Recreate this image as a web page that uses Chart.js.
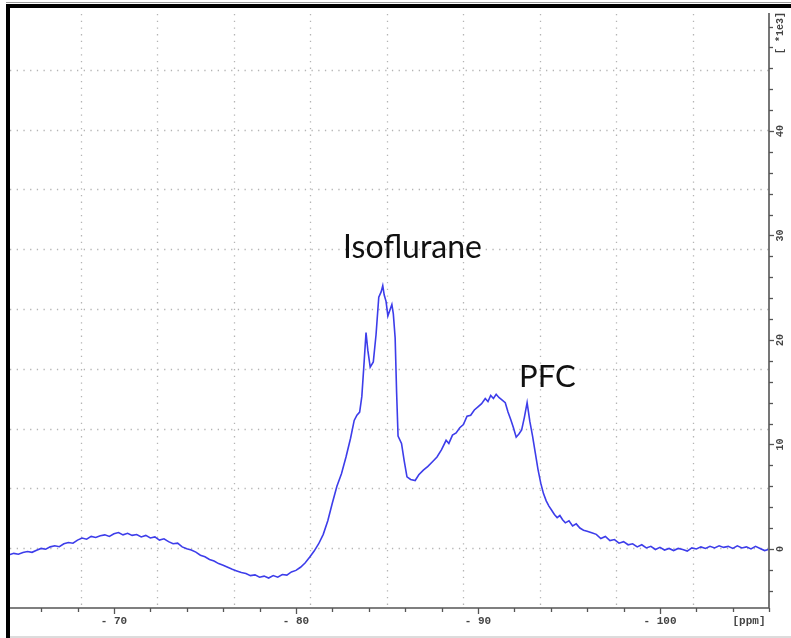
<!DOCTYPE html>
<html>
<head>
<meta charset="utf-8">
<script src="https://cdn.jsdelivr.net/npm/chart.js@4.4.1/dist/chart.umd.min.js"></script>
<style>
  html, body { margin: 0; padding: 0; background: #fff; }
  #wrap { width: 791px; height: 638px; position: relative; }
</style>
</head>
<body>
<div id="wrap"><canvas id="nmr"></canvas></div>
<script>
const shifts = [
  -64.25, -64.5, -64.75, -65.0, -65.25, -65.5, -65.75, -66.0, -66.25, -66.5,
  -66.75, -67.0, -67.25, -67.5, -67.75, -68.0, -68.25, -68.5, -68.75, -69.0,
  -69.25, -69.5, -69.75, -70.0, -70.25, -70.5, -70.75, -71.0, -71.25, -71.5,
  -71.75, -72.0, -72.25, -72.5, -72.75, -73.0, -73.25, -73.5, -73.75, -74.0,
  -74.25, -74.5, -74.75, -75.0, -75.25, -75.5, -75.75, -76.0, -76.25, -76.5,
  -76.75, -77.0, -77.25, -77.5, -77.75, -78.0, -78.25, -78.5, -78.75, -79.0,
  -79.25, -79.5, -79.75, -80.0, -80.25, -80.5, -80.75, -81.0, -81.25, -81.5,
  -81.75, -82.0, -82.25, -82.5, -82.75, -83.0, -83.2, -83.35, -83.5, -83.62,
  -83.75, -83.85, -83.95, -84.08, -84.25, -84.4, -84.55, -84.68, -84.77, -84.85,
  -84.95, -85.05, -85.15, -85.27, -85.35, -85.45, -85.53, -85.61, -85.8, -85.95,
  -86.1, -86.3, -86.55, -86.75, -87.0, -87.25, -87.5, -87.75, -88.0, -88.25,
  -88.4, -88.6, -88.8, -89.0, -89.2, -89.4, -89.6, -89.8, -90.0, -90.2,
  -90.4, -90.55, -90.7, -90.85, -91.0, -91.15, -91.3, -91.5, -91.65, -91.8,
  -91.95, -92.1, -92.25, -92.4, -92.55, -92.7, -92.85, -93.0, -93.15, -93.3,
  -93.45, -93.6, -93.75, -93.9, -94.05, -94.2, -94.35, -94.5, -94.65, -94.8,
  -95.0, -95.2, -95.4, -95.6, -95.8, -96.0, -96.25, -96.5, -96.75, -97.0,
  -97.25, -97.5, -97.75, -98.0, -98.25, -98.5, -98.75, -99.0, -99.25, -99.5,
  -99.75, -100.0, -100.25, -100.5, -100.75, -101.0, -101.25, -101.5, -101.75, -102.0,
  -102.25, -102.5, -102.75, -103.0, -103.25, -103.5, -103.75, -104.0, -104.25, -104.5,
  -104.75, -105.0, -105.25, -105.5, -105.75, -105.95
];
const intensity = [
  -0.55, -0.42, -0.5, -0.33, -0.25, -0.32, -0.12, 0.05, -0.02, 0.2,
  0.3, 0.22, 0.5, 0.62, 0.55, 0.85, 1.05, 0.93, 1.2, 1.1,
  1.27, 1.35, 1.2, 1.45, 1.57, 1.35, 1.5, 1.3, 1.38, 1.15,
  1.3, 1.05, 1.15, 0.85, 0.97, 0.7, 0.5, 0.56, 0.2, 0.02,
  -0.1, -0.3, -0.6, -0.75, -1.0, -1.15, -1.4, -1.55, -1.75, -1.95,
  -2.1, -2.25, -2.35, -2.55, -2.48, -2.7, -2.6, -2.78, -2.55, -2.7,
  -2.45, -2.5, -2.2, -2.05, -1.75, -1.35, -0.8, -0.2, 0.5, 1.4,
  2.7, 4.4, 6.0, 7.2, 8.8, 10.6, 12.3, 12.8, 13.1, 14.6,
  18.0, 20.7, 19.0, 17.4, 17.9, 20.5, 24.1, 24.6, 25.2, 24.3,
  23.7, 22.3, 22.8, 23.4, 22.5, 20.2, 15.0, 10.8, 10.1, 8.4,
  6.9, 6.65, 6.55, 7.1, 7.55, 7.9, 8.35, 8.8, 9.5, 10.4,
  10.1, 10.9, 11.1, 11.6, 11.9, 12.7, 12.8, 13.3, 13.6, 13.9,
  14.4, 14.1, 14.7, 14.4, 14.8, 14.5, 14.3, 14.0, 13.1, 12.4,
  11.6, 10.7, 11.0, 11.4, 12.6, 14.0, 12.2, 10.8, 9.2, 7.6,
  6.3, 5.3, 4.6, 4.1, 3.7, 3.3, 3.0, 3.2, 2.8, 2.5,
  2.7, 2.2, 2.4, 2.0, 1.8, 1.7, 1.55, 1.4, 1.0, 1.2,
  0.8, 0.9, 0.55, 0.7, 0.4, 0.5, 0.2, 0.4, 0.1, 0.25,
  -0.05, 0.15, -0.1, 0.05, -0.15, 0.05, -0.05, -0.2, 0.1, 0.0,
  0.2, 0.05, 0.25, 0.1, 0.3, 0.15, 0.25, 0.05, 0.3, 0.1,
  0.2, 0.0, 0.25, 0.05, -0.15, -0.05
];

// axis ticks (minor every 2, labelled every 10)
const xTicks = [-66, -68, -70, -72, -74, -76, -78, -80, -82, -84, -86, -88, -90, -92, -94, -96, -98, -100, -102, -104, -106];
const xLabels = [-70, -80, -90, -100];
const yTicks = [-4, -2, 0, 2, 4, 6, 8, 10, 12, 14, 16, 18, 20, 22, 24, 26, 28, 30, 32, 34, 36, 38, 40, 42, 44, 46, 48, 50];
const yLabels = [0, 10, 20, 30, 40];
const peakNames = ['Isoflurane', 'PFC'];

const points = shifts.map((s, i) => ({ x: s, y: intensity[i] }));

// draws the xwin-nmr style box, dotted grid, ticks, labels
const nmrFrame = {
  id: 'nmrFrame',
  beforeDraw(chart) {
    const c = chart.ctx;
    c.save();
    c.fillStyle = '#fff';
    c.fillRect(0, 0, chart.width, chart.height);
    c.restore();
  },
  beforeDatasetsDraw(chart) {
    const c = chart.ctx;
    const a = chart.chartArea;
    c.save();
    c.strokeStyle = '#b4b4b4';
    c.lineWidth = 1.3;
    c.setLineDash([1.3, 5.4]);
    for (let i = 1; i < 10; i++) {
      const gx = Math.round(a.left + i * (a.right - a.left) / 10) + 0.5;
      c.beginPath(); c.moveTo(gx, a.top + 4); c.lineTo(gx, a.bottom); c.stroke();
      const gy = Math.round(a.top + i * (a.bottom - a.top) / 10) + 0.5;
      c.beginPath(); c.moveTo(10, gy); c.lineTo(a.right, gy); c.stroke();
    }
    c.restore();
  },
  afterDraw(chart) {
    const c = chart.ctx;
    const a = chart.chartArea;
    const xs = chart.scales.x, ys = chart.scales.y;
    c.save();
    // axis lines
    c.strokeStyle = '#555';
    c.lineWidth = 1.6;
    c.beginPath();
    c.moveTo(10, a.bottom); c.lineTo(a.right, a.bottom); c.lineTo(a.right, 13);
    c.stroke();
    // ticks
    c.lineWidth = 1.3;
    xTicks.forEach(v => {
      const px = Math.round(xs.getPixelForValue(v)) + 0.5;
      const len = xLabels.includes(v) ? 6 : 4;
      c.beginPath(); c.moveTo(px, a.bottom); c.lineTo(px, a.bottom + len); c.stroke();
    });
    yTicks.forEach(v => {
      const py = Math.round(ys.getPixelForValue(v)) + 0.5;
      const len = yLabels.includes(v) ? 5 : 4;
      c.beginPath(); c.moveTo(a.right, py); c.lineTo(a.right + len, py); c.stroke();
    });
    // tick labels
    c.fillStyle = '#444';
    c.font = 'bold 11px "Liberation Mono", "DejaVu Sans Mono", monospace';
    c.textAlign = 'center';
    c.textBaseline = 'middle';
    xLabels.forEach(v => {
      c.fillText('- ' + Math.abs(v), xs.getPixelForValue(v), 621);
    });
    c.fillText('[ppm]', 749, 621);
    c.font = 'bold 10px "Liberation Mono", "DejaVu Sans Mono", monospace';
    yLabels.forEach(v => {
      c.save();
      c.translate(780, ys.getPixelForValue(v));
      c.rotate(-Math.PI / 2);
      c.fillText(String(v), 0, 0);
      c.restore();
    });
    c.save();
    c.translate(780, 33);
    c.rotate(-Math.PI / 2);
    c.fillText('[ *1e3]', 0, 0);
    c.restore();
    // peak annotations, anchored in data coordinates
    c.fillStyle = '#111';
    c.font = '32px Lato, "Open Sans", sans-serif';
    c.textAlign = 'left';
    c.textBaseline = 'alphabetic';
    c.fillText(peakNames[0], xs.getPixelForValue(-82.59), ys.getPixelForValue(27.85));
    c.font = '31px Lato, "Open Sans", sans-serif';
    c.fillText(peakNames[1], xs.getPixelForValue(-92.26), ys.getPixelForValue(15.5));
    // outer frame of the screenshot
    c.fillStyle = '#000';
    c.fillRect(6, 4, 785, 4);
    c.fillRect(6, 4, 4, 634);
    c.fillStyle = '#9a9a9a';
    c.fillRect(6, 2, 785, 1);
    c.fillStyle = '#dcdcdc';
    c.fillRect(10, 636, 781, 2);
    c.restore();
  }
};

new Chart(document.getElementById('nmr'), {
  type: 'line',
  data: {
    datasets: [{
      data: points,
      borderColor: '#3d3dea',
      borderWidth: 1.6,
      pointRadius: 0,
      tension: 0,
      fill: false
    }]
  },
  options: {
    responsive: true,
    maintainAspectRatio: false,
    animation: false,
    devicePixelRatio: 1,
    layout: { padding: { left: 4, top: 10, right: 22, bottom: 30 } },
    plugins: { legend: { display: false }, tooltip: { enabled: false } },
    scales: {
      x: { type: 'linear', min: -105.99, max: -63.96, reverse: true, display: false },
      y: { type: 'linear', min: -5.65, max: 51.58, display: false }
    }
  },
  plugins: [nmrFrame]
});
</script>
</body>
</html>
